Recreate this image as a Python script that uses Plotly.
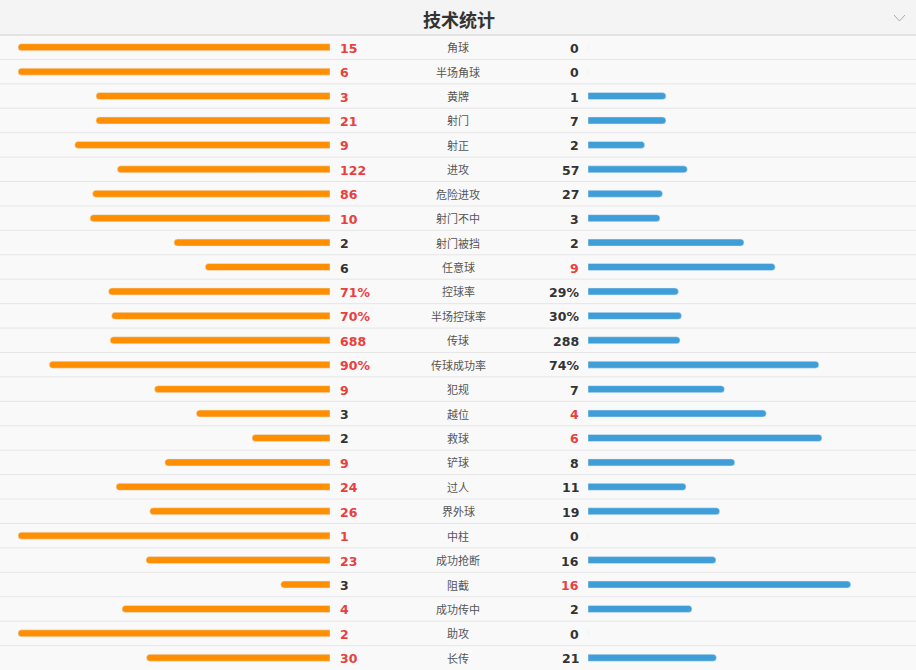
import plotly.graph_objects as go

categories = ["角球", "半场角球", "黄牌", "射门", "射正", "进攻", "危险进攻", "射门不中", "射门被挡",
              "任意球", "控球率", "半场控球率", "传球", "传球成功率", "犯规", "越位", "救球", "铲球",
              "过人", "界外球", "中柱", "成功抢断", "阻截", "成功传中", "助攻", "长传"]
home_values = [15, 6, 3, 21, 9, 122, 86, 10, 2, 6, 71, 70, 688, 90, 9, 3, 2, 9, 24, 26, 1, 23, 3, 4, 2, 30]
away_values = [0, 0, 1, 7, 2, 57, 27, 3, 2, 9, 29, 30, 288, 74, 7, 4, 6, 8, 11, 19, 0, 16, 16, 2, 0, 21]
is_percent = [False] * 10 + [True, True, False, True] + [False] * 12
title = "技术统计"

W, H = 916, 670
HEADER = 35
n = len(categories)
idx = list(range(n))

home_share, away_share, home_txt, away_txt = [], [], [], []
for a, b, p in zip(home_values, away_values, is_percent):
    if p:
        home_share.append(a / 100)
        away_share.append(b / 100)
        home_txt.append(f"{a}%")
        away_txt.append(f"{b}%")
    else:
        t = a + b
        home_share.append(a / t if t else 0)
        away_share.append(b / t if t else 0)
        home_txt.append(str(a))
        away_txt.append(str(b))

ORANGE = "#ff8f00"
BLUE = "#3f9dd8"
RED = "#e8403e"
DARK = "#333333"

fig = go.Figure()
bar_w = 7 / ((H - HEADER) / n)
fig.add_trace(go.Bar(y=idx, x=home_share, orientation="h", marker_color=ORANGE, width=bar_w,
                     xaxis="x", yaxis="y", hoverinfo="skip"))
fig.add_trace(go.Bar(y=idx, x=away_share, orientation="h", marker_color=BLUE, width=bar_w,
                     xaxis="x2", yaxis="y", hoverinfo="skip"))

annotations = []
for i in idx:
    a, b = home_values[i], away_values[i]
    ca = RED if a > b else DARK
    cb = RED if b > a else DARK
    annotations.append(dict(x=337.5 / W, y=i, xref="paper", yref="y", text=f"<b>{home_txt[i]}</b>",
                            showarrow=False, xanchor="left", yanchor="middle", yshift=-1,
                            font=dict(family="DejaVu Sans", size=12.5, color=ca)))
    annotations.append(dict(x=580.5 / W, y=i, xref="paper", yref="y", text=f"<b>{away_txt[i]}</b>",
                            showarrow=False, xanchor="right", yanchor="middle", yshift=-1,
                            font=dict(family="DejaVu Sans", size=12.5, color=cb)))
    annotations.append(dict(x=458 / W, y=i, xref="paper", yref="y", text=categories[i],
                            showarrow=False, xanchor="center", yanchor="middle",
                            font=dict(family="Noto Sans CJK SC", size=11, color="#555555")))

annotations.append(dict(x=459 / W, y=1 - 19 / H, xref="paper", yref="paper", text=f"<b>{title}</b>",
                        showarrow=False, xanchor="center", yanchor="middle",
                        font=dict(family="Noto Sans CJK SC", size=18, color="#333333")))

shapes = [
    dict(type="rect", xref="paper", yref="paper", x0=0, x1=1, y0=1 - HEADER / H, y1=1,
         fillcolor="#f4f4f4", line_width=0, layer="below"),
    dict(type="line", xref="paper", yref="paper", x0=0, x1=1, y0=1 - HEADER / H, y1=1 - HEADER / H,
         line=dict(color="#dddddd", width=1.5)),
    dict(type="path", xref="paper", yref="paper",
         path=f"M {894/W} {1-15/H} L {899.5/W} {1-21/H} L {905/W} {1-15/H}",
         line=dict(color="#aaaaaa", width=1)),
]
for i in range(n - 1):
    shapes.append(dict(type="line", xref="paper", yref="y", x0=0, x1=1, y0=i + 0.5, y1=i + 0.5,
                       line=dict(color="#e6e6e6", width=1), layer="below"))

fig.update_layout(
    width=W, height=H,
    margin=dict(l=0, r=0, t=0, b=0),
    paper_bgcolor="#f9f9f9", plot_bgcolor="rgba(0,0,0,0)",
    showlegend=False,
    barcornerradius="50%",
    xaxis=dict(domain=[18 / W, 330 / W], range=[1, 0], visible=False, fixedrange=True),
    xaxis2=dict(domain=[588 / W, 900 / W], range=[0, 1], visible=False, fixedrange=True, anchor="y"),
    yaxis=dict(domain=[0, 1 - HEADER / H], range=[n - 0.5, -0.5], visible=False, fixedrange=True),
    annotations=annotations,
    shapes=shapes,
)

fig.write_html("out.html")
